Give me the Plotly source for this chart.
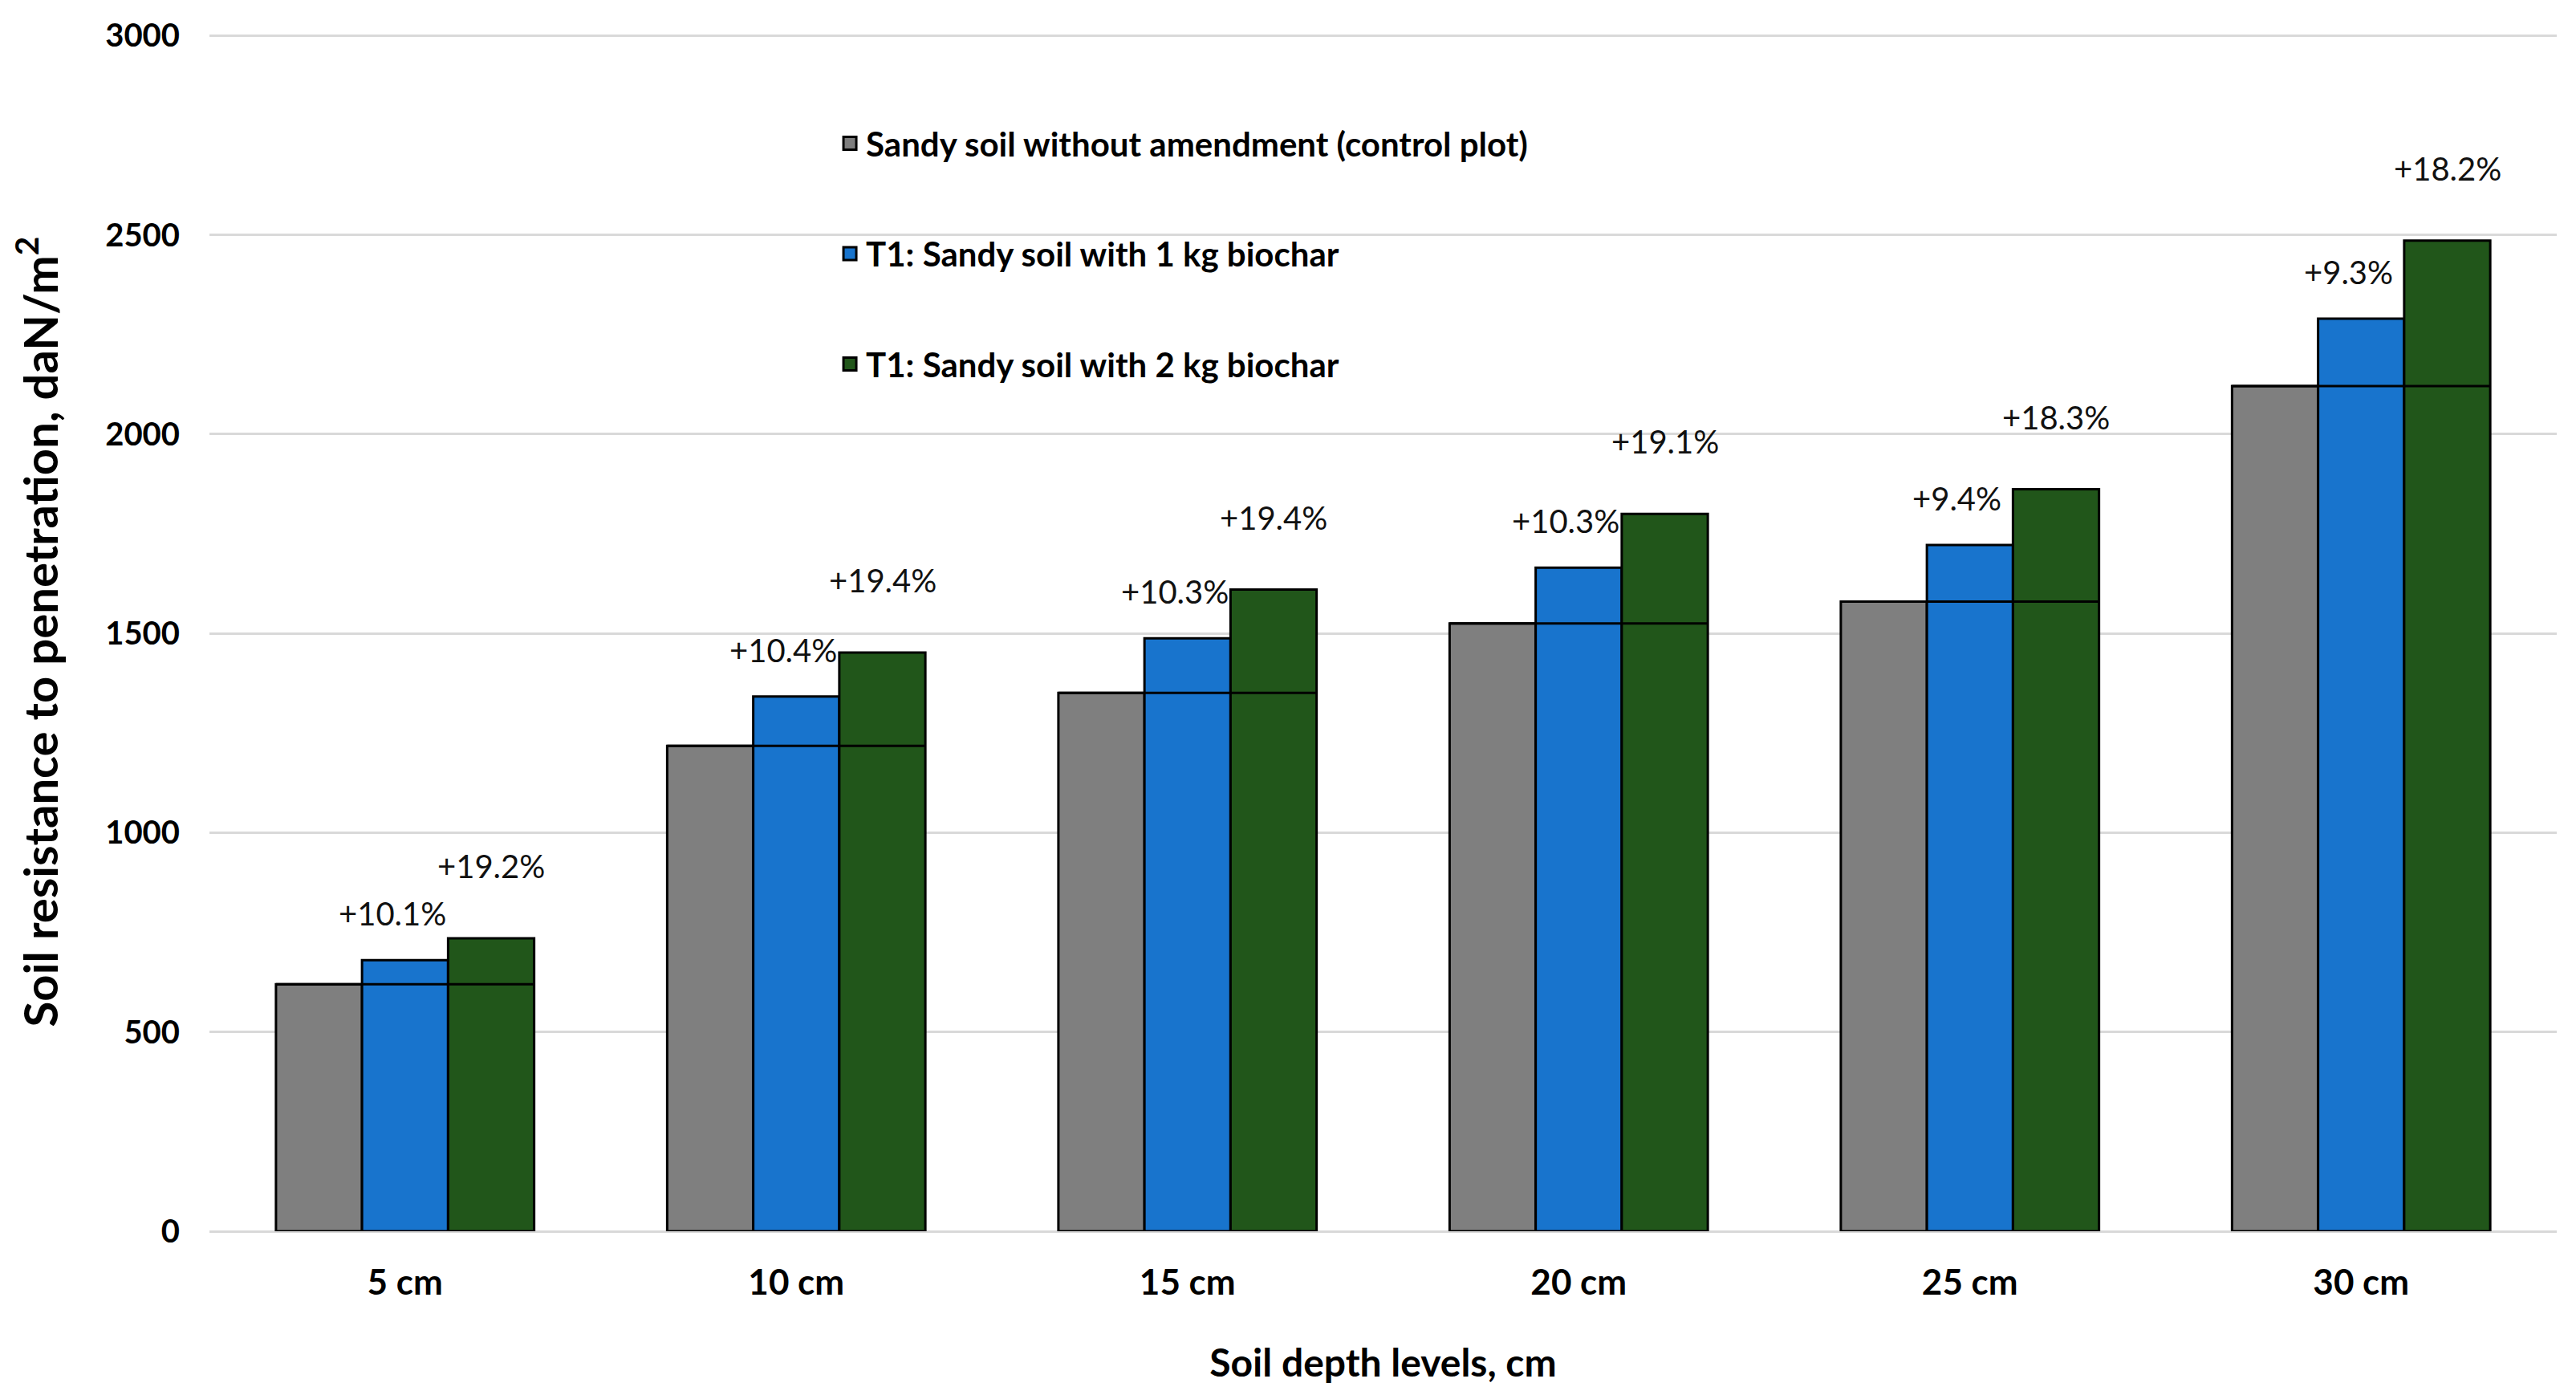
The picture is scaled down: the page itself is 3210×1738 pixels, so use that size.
import plotly.graph_objects as go

# ---- data ----
depths = ["5 cm", "10 cm", "15 cm", "20 cm", "25 cm", "30 cm"]
control = [620, 1218, 1351, 1525, 1580, 2121]
biochar_1kg = [680, 1342, 1488, 1665, 1722, 2290]
biochar_2kg = [735, 1452, 1610, 1800, 1862, 2486]
pct_1kg = ["+10.1%", "+10.4%", "+10.3%", "+10.3%", "+9.4%", "+9.3%"]
pct_2kg = ["+19.2%", "+19.4%", "+19.4%", "+19.1%", "+18.3%", "+18.2%"]
series_names = [
    "Sandy soil without amendment (control plot)",
    "T1: Sandy soil with 1 kg biochar",
    "T1: Sandy soil with 2 kg biochar",
]
y_ticks = [0, 500, 1000, 1500, 2000, 2500, 3000]

# ---- styles ----
colors = ["#7F7F7F", "#1874CD", "#21561A"]
FONT = "Lato"
bargap = 0.34
bar_w = (1 - bargap) / 3
idx = list(range(len(depths)))

fig = go.Figure()
for k, (vals, name, col) in enumerate(zip([control, biochar_1kg, biochar_2kg], series_names, colors)):
    fig.add_trace(go.Bar(
        x=idx, y=vals, name=name, legendgroup=f"g{k}", showlegend=False,
        marker=dict(color=col, line=dict(color="black", width=3)),
    ))
    # legend entry with a larger square swatch
    fig.add_trace(go.Scatter(
        x=[None], y=[None], mode="markers", name=name, legendgroup=f"g{k}",
        marker=dict(symbol="square", size=26, color=col, line=dict(color="black", width=3)),
    ))

# reference line at control level across each group
lx, ly = [], []
for i, c in zip(idx, control):
    lx += [i - 1.5 * bar_w, i + 1.5 * bar_w, None]
    ly += [c, c, None]
fig.add_trace(go.Scatter(x=lx, y=ly, mode="lines", line=dict(color="black", width=3),
                         showlegend=False, hoverinfo="skip"))

ann = []
for i, v, t in zip(idx, biochar_1kg, pct_1kg):
    ann.append(dict(x=i, y=v, text=t, showarrow=False, xref="x", yref="y",
                    xshift=-16, yshift=58, font=dict(family=FONT, size=40, color="#111")))
for i, v, t in zip(idx, biochar_2kg, pct_2kg):
    ann.append(dict(x=i + bar_w, y=v, text=t, showarrow=False, xref="x", yref="y",
                    xshift=0, yshift=90, font=dict(family=FONT, size=40, color="#111")))

fig.update_layout(
    width=3210, height=1738,
    paper_bgcolor="white", plot_bgcolor="white",
    barmode="group", bargap=bargap, bargroupgap=0,
    margin=dict(l=253, r=32, t=12, b=212),
    font=dict(family=FONT, color="black"),
    annotations=ann,
    legend=dict(x=0.266, y=0.930, xanchor="left", yanchor="top",
                font=dict(family=FONT, size=42, color="black", weight="bold"),
                traceorder="grouped", tracegroupgap=80, bgcolor="rgba(0,0,0,0)",
                itemsizing="trace", itemwidth=30),
    xaxis=dict(range=[-0.5, len(depths) - 0.5], tickmode="array", tickvals=idx, ticktext=depths,
               showgrid=False, zeroline=False, showline=False, ticks="", ticklabelstandoff=34,
               tickfont=dict(family=FONT, size=44, color="black", weight="bold"),
               title=dict(text="Soil depth levels, cm", standoff=60,
                          font=dict(family=FONT, size=48, color="black", weight="bold"))),
    yaxis=dict(range=[0, y_ticks[-1] * 1.003], tickmode="array", tickvals=y_ticks,
               showgrid=True, gridcolor="#d9d9d9", gridwidth=3,
               zeroline=True, zerolinecolor="#d9d9d9", zerolinewidth=3,
               showline=False, ticks="", ticklabelstandoff=36, ticklabeloverflow="allow",
               tickfont=dict(family=FONT, size=40, color="black", weight="bold"),
               title=dict(text="Soil resistance to penetration, daN/m<sup>2</sup>", standoff=42,
                          font=dict(family=FONT, size=58, color="black", weight="bold"))),
)

fig.write_html("out.html")
